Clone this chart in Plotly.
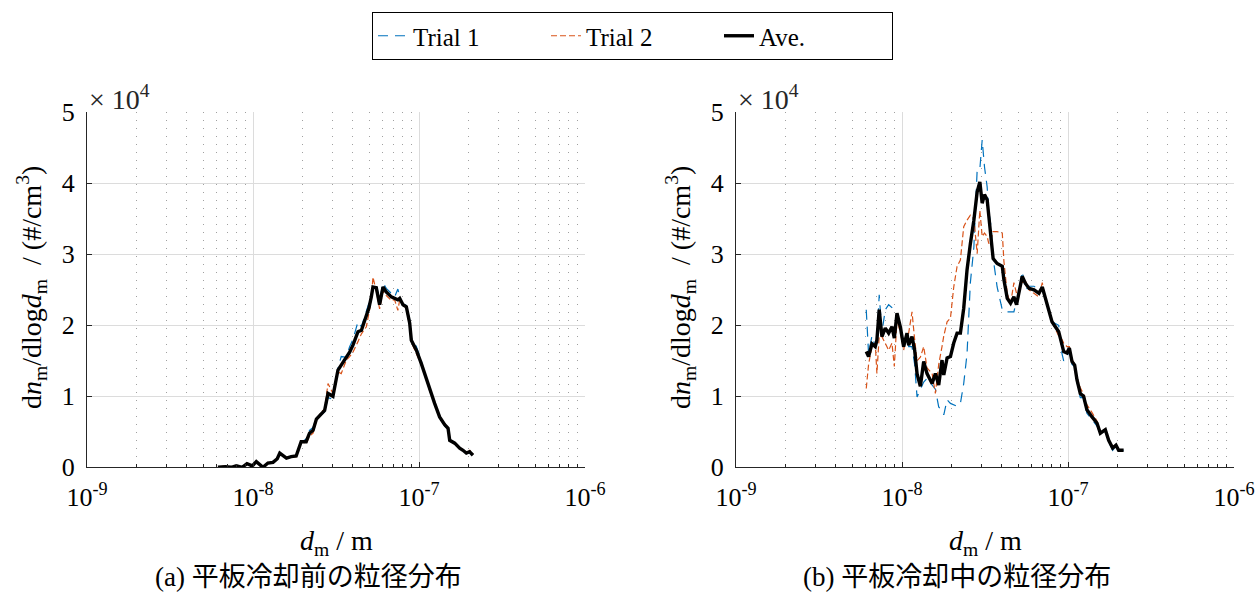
import plotly.graph_objects as go

# ---------------- data (diameters in nm, values in units of 1e4 #/cm3) ----------------
d_a = [6.15, 6.8, 7.4, 7.94, 8.6, 9.2, 9.9, 10.47, 11.48, 12.3, 13.2, 14.0, 14.5, 15.9,
       17.0, 18.2, 19.5, 20.9, 21.9, 23.0, 24.1, 25.8, 27.0, 28.3, 30.3, 32.5, 34.0,
       36.5, 38.2, 40.0, 42.9, 45.0, 48.2, 50.0, 51.6, 52.8, 55.3, 57.9, 60.7, 63.5,
       68.1, 71.3, 74.6, 76.5, 80.1, 83.9, 87.9, 89.9, 96.4, 103.3, 108.1, 115.9,
       124.2, 133.1, 142.8, 149.6, 153.1, 164.1, 175.8, 184.1, 192.8, 201.8, 211.4]
ave_a = [0.00, 0.01, 0.00, 0.02, 0.00, 0.05, 0.02, 0.08, 0.00, 0.06, 0.07, 0.12, 0.20, 0.13,
         0.15, 0.16, 0.36, 0.36, 0.48, 0.52, 0.68, 0.76, 0.80, 1.04, 1.00, 1.37, 1.44,
         1.53, 1.62, 1.72, 1.91, 1.93, 2.12, 2.25, 2.40, 2.54, 2.53, 2.29, 2.54, 2.47,
         2.40, 2.38, 2.36, 2.38, 2.29, 2.26, 2.03, 1.79, 1.65, 1.46, 1.32, 1.09,
         0.90, 0.71, 0.60, 0.55, 0.38, 0.34, 0.27, 0.24, 0.20, 0.22, 0.17]
t1_a = [0.00, 0.00, 0.01, 0.02, 0.01, 0.04, 0.03, 0.07, 0.01, 0.05, 0.08, 0.11, 0.21, 0.12,
        0.16, 0.17, 0.35, 0.40, 0.52, 0.56, 0.70, 0.74, 0.78, 0.98, 0.96, 1.40, 1.56,
        1.55, 1.70, 1.80, 2.05, 1.98, 2.20, 2.32, 2.45, 2.50, 2.58, 2.35, 2.60, 2.52,
        2.45, 2.40, 2.51, 2.40, 2.30, 2.28, 2.08, 1.82, 1.70, 1.50, 1.30, 1.10,
        0.92, 0.72, 0.58, 0.54, 0.39, 0.35, 0.27, 0.23, 0.21, 0.20, 0.15]
t2_a = [0.00, 0.02, 0.00, 0.01, 0.00, 0.06, 0.02, 0.09, 0.00, 0.07, 0.06, 0.13, 0.19, 0.14,
        0.14, 0.15, 0.37, 0.33, 0.44, 0.48, 0.66, 0.78, 0.82, 1.18, 1.04, 1.34, 1.32,
        1.51, 1.56, 1.62, 1.77, 1.88, 1.98, 2.18, 2.35, 2.68, 2.48, 2.23, 2.48, 2.42,
        2.35, 2.36, 2.21, 2.36, 2.28, 2.24, 1.98, 1.76, 1.60, 1.42, 1.34, 1.08,
        0.88, 0.70, 0.62, 0.56, 0.37, 0.33, 0.27, 0.25, 0.19, 0.24, 0.19]

d_b = [6.09, 6.29, 6.59, 6.90, 7.06, 7.29, 7.57, 7.93, 8.31, 8.70, 8.99, 9.33, 9.77, 10.23,
       10.72, 10.97, 11.49, 11.92, 12.32, 12.90, 13.51, 14.15, 15.18, 15.89, 16.64, 17.42,
       17.85, 18.69, 19.58, 20.50, 21.47, 22.48, 23.54, 24.65, 25.81, 27.10, 28.37, 29.44,
       30.41, 31.41, 32.58, 33.34, 34.43, 35.40, 37.41, 40.18, 41.11, 43.05, 45.08, 47.21,
       48.98, 50.58, 52.97, 55.46, 58.21, 62.37, 66.83, 69.98, 73.28, 80.1, 87.9, 92.0,
       94.2, 98.6, 101.9, 105.7, 109.7, 113.3, 118.6, 124.1, 130.0, 139.6, 149.6, 156.6,
       167.8, 175.8, 185.8, 194.6, 201.8, 216.3]
ave_b = [1.63, 1.56, 1.74, 1.70, 1.79, 2.22, 1.84, 1.96, 1.89, 1.98, 1.82, 2.17, 1.98, 1.70,
         1.89, 1.72, 1.84, 1.65, 1.32, 1.14, 1.49, 1.32, 1.18, 1.32, 1.16, 1.51,
         1.30, 1.54, 1.56, 1.75, 1.89, 1.89, 2.24, 2.78, 3.15, 3.48, 3.88, 4.02,
         3.72, 3.84, 3.77, 3.53, 3.25, 2.94, 2.87, 2.83, 2.64, 2.38, 2.31, 2.40,
         2.29, 2.45, 2.69, 2.59, 2.52, 2.50, 2.45, 2.54, 2.36, 2.05, 1.91, 1.75,
         1.63, 1.61, 1.68, 1.49, 1.44, 1.23, 1.04, 1.00, 0.81, 0.71, 0.62, 0.48,
         0.53, 0.38, 0.27, 0.31, 0.24, 0.24]
t1_b = [2.22, 1.60, 1.85, 1.70, 1.75, 2.43, 1.90, 2.22, 2.29, 2.25, 2.19, 2.15, 1.98, 1.75,
        1.89, 1.70, 1.70, 1.45, 0.99, 1.10, 1.20, 1.25, 1.15, 1.10, 0.85, 0.80,
        0.74, 0.95, 0.90, 0.88, 0.86, 0.90, 1.18, 1.60, 2.60, 3.10, 4.19, 4.20,
        4.61, 4.23, 3.95, 3.60, 3.39, 2.95, 2.54, 2.22, 2.22, 2.19, 2.19, 2.19,
        2.35, 2.45, 2.76, 2.50, 2.55, 2.55, 2.50, 2.50, 2.35, 2.05, 2.00, 1.60,
        1.50, 1.55, 1.65, 1.45, 1.42, 1.20, 0.98, 0.98, 0.76, 0.66, 0.58, 0.47,
        0.52, 0.36, 0.24, 0.30, 0.23, 0.24]
t2_b = [1.11, 1.45, 1.70, 1.75, 1.32, 1.85, 1.84, 1.75, 1.65, 1.75, 1.42, 2.08, 1.90, 1.65,
        1.89, 1.89, 2.19, 1.80, 1.50, 1.55, 1.70, 1.40, 1.32, 1.04, 1.45, 1.70,
        1.85, 2.05, 2.10, 2.54, 2.83, 2.92, 3.39, 3.48, 3.55, 3.50, 3.01, 3.62,
        3.25, 3.30, 3.25, 3.15, 3.20, 3.32, 3.32, 3.30, 2.90, 2.45, 2.30, 2.60,
        2.45, 2.50, 2.60, 2.62, 2.50, 2.45, 2.40, 2.60, 2.35, 2.05, 1.85, 1.80,
        1.75, 1.70, 1.70, 1.52, 1.45, 1.26, 1.12, 1.03, 0.88, 0.77, 0.65, 0.50,
        0.54, 0.40, 0.29, 0.32, 0.25, 0.24]

x_major = [1e-9, 1e-8, 1e-7, 1e-6]
x_major_text = ["10<sup>-9</sup>", "10<sup>-8</sup>", "10<sup>-7</sup>", "10<sup>-6</sup>"]
y_major = [0, 1, 2, 3, 4, 5]
series_names = ["Trial 1", "Trial 2", "Ave."]
captions = ["(a) 平板冷却前の粒径分布", "(b) 平板冷却中の粒径分布"]

# ---------------- figure ----------------
W, H = 1258, 593
FONT = "Liberation Serif, Times New Roman, Noto Sans CJK JP, serif"
TXT = "#262626"

def px(sx):
    return sx / W

def py(sy):
    return 1 - sy / H

def m(v):
    return [x * 1e-9 for x in v]

def sc(v):
    return [x * 1e4 for x in v]

fig = go.Figure()
panels = [(d_a, t1_a, t2_a, ave_a, "x", "y"), (d_b, t1_b, t2_b, ave_b, "x2", "y2")]
for i, (d, t1, t2, av, xa, ya) in enumerate(panels):
    show = i == 0
    fig.add_trace(go.Scatter(x=m(d), y=sc(t1), mode="lines", name=series_names[0],
                             line=dict(color="#0072BD", width=1.2, dash="10px,7px"),
                             xaxis=xa, yaxis=ya, showlegend=show))
    fig.add_trace(go.Scatter(x=m(d), y=sc(t2), mode="lines", name=series_names[1],
                             line=dict(color="#D95319", width=1.2, dash="6px,3px"),
                             xaxis=xa, yaxis=ya, showlegend=show))
    fig.add_trace(go.Scatter(x=m(d), y=sc(av), mode="lines", name=series_names[2],
                             line=dict(color="black", width=3.4),
                             xaxis=xa, yaxis=ya, showlegend=show))

minor_vals = [k * 10.0 ** e for e in (-9, -8, -7) for k in range(2, 10)]

def xaxis(dom, anchor):
    return dict(domain=dom, anchor=anchor, type="log", range=[-9, -6], automargin=False,
                tickmode="array", tickvals=x_major, ticktext=x_major_text,
                ticks="inside", ticklen=5, tickcolor=TXT, tickwidth=1,
                ticklabelstandoff=6, ticklabeloverflow="allow",
                showline=True, linecolor=TXT, linewidth=1, mirror=False,
                showgrid=True, gridcolor="#dcdcdc", gridwidth=1, zeroline=False,
                tickfont=dict(family=FONT, size=26, color="black"),
                minor=dict(tickmode="array", tickvals=minor_vals, ticks="inside",
                           ticklen=3, tickcolor=TXT, showgrid=True,
                           gridcolor="#a0a0a0", griddash="1px,7px", gridwidth=1))

def yaxis(dom, anchor):
    return dict(domain=dom, anchor=anchor, range=[0, 5e4], automargin=False,
                tickmode="array", tickvals=[v * 1e4 for v in y_major],
                ticktext=[str(v) for v in y_major],
                ticks="inside", ticklen=5, tickcolor=TXT, ticklabelstandoff=6,
                ticklabeloverflow="allow",
                showline=True, linecolor=TXT, linewidth=1, mirror=False,
                showgrid=True, gridcolor="#dcdcdc", gridwidth=1, zeroline=False,
                tickfont=dict(family=FONT, size=26, color="black"))

x1d = [px(87), px(585)]
x2d = [px(736), px(1234)]
yd = [py(467.3), py(112.3)]

fig.update_layout(
    template="none",
    width=W, height=H, autosize=False,
    margin=dict(l=0, r=0, t=0, b=0, pad=0),
    paper_bgcolor="white", plot_bgcolor="white",
    font=dict(family=FONT, size=25, color="black"),
    xaxis=xaxis(x1d, "y"),
    yaxis=yaxis(yd, "x"),
    xaxis2=xaxis(x2d, "y2"),
    yaxis2=yaxis(yd, "x2"),
    showlegend=True,
    legend=dict(orientation="h", x=px(632.5), xanchor="center", y=py(12), yanchor="top",
                bordercolor="black", borderwidth=1, bgcolor="white",
                font=dict(family=FONT, size=25, color="black"),
                entrywidth=128, entrywidthmode="pixels", traceorder="normal"),
)

ylabel = "d<i>n</i><sub>m</sub>/dlog<i>d</i><sub>m</sub>  / (#/cm<sup>3</sup>)"
xlabel = "<i>d</i><sub>m</sub> / m"
ann = []
for k, x0 in enumerate([87, 736]):
    ann.append(dict(x=px(x0), y=py(97), xref="paper", yref="paper", text="× 10<sup>4</sup>",
                    showarrow=False, xanchor="left", yanchor="middle",
                    font=dict(family=FONT, size=28, color=TXT)))
    ann.append(dict(x=px(x0 - 55), y=py(288), xref="paper", yref="paper", text=ylabel,
                    showarrow=False, textangle=-90, xanchor="center", yanchor="middle",
                    font=dict(family=FONT, size=28, color="black")))
    ann.append(dict(x=px(x0 + 249), y=py(542), xref="paper", yref="paper", text=xlabel,
                    showarrow=False, xanchor="center", yanchor="middle",
                    font=dict(family=FONT, size=28, color="black")))
    ann.append(dict(x=px(x0 + 221), y=py(577), xref="paper", yref="paper", text=captions[k],
                    showarrow=False, xanchor="center", yanchor="middle",
                    font=dict(family=FONT, size=27, color="black")))
fig.update_layout(annotations=ann)

fig.write_html("out.html", config={"displayModeBar": False},
               post_script="document.body.style.margin='0';document.body.style.overflow='hidden';")
